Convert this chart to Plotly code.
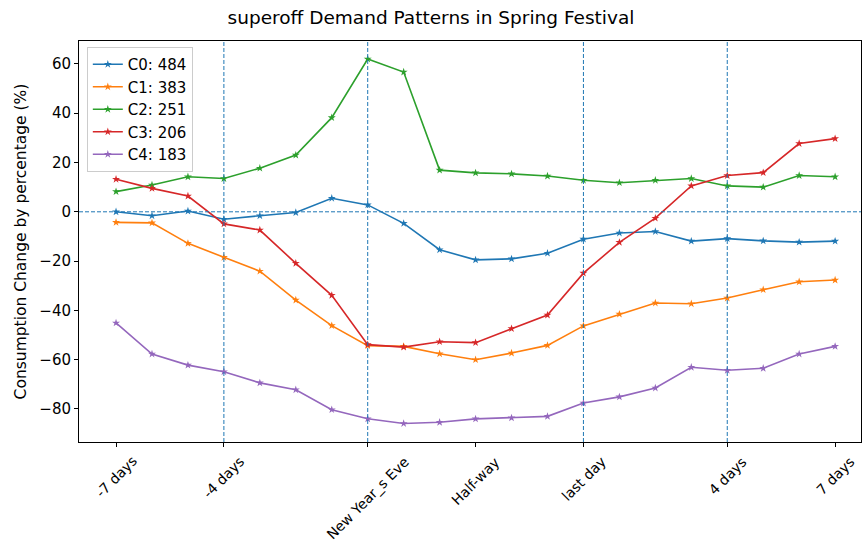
import plotly.graph_objects as go

days = list(range(21))
tick_pos = [0, 3, 7, 10, 13, 17, 20]
tick_text = ["-7 days", "-4 days", "New Year_s Eve", "Half-way", "last day", "4 days", "7 days"]
event_days = [3, 7, 13, 17]

names = ["C0: 484", "C1: 383", "C2: 251", "C3: 206", "C4: 183"]
colors = ["#1f77b4", "#ff7f0e", "#2ca02c", "#d62728", "#9467bd"]

c0 = [0.0, -1.6, 0.3, -3.0, -1.6, -0.3, 5.5, 2.8, -4.7, -15.4, -19.5,
      -19.1, -16.8, -11.1, -8.6, -8.0, -11.9, -10.9, -11.8, -12.3, -11.9]
c1 = [-4.3, -4.5, -12.8, -18.5, -24.1, -35.8, -46.2, -54.3, -54.6, -57.6, -60.0,
      -57.3, -54.2, -46.3, -41.5, -37.0, -37.3, -35.0, -31.6, -28.4, -27.7]
c2 = [8.2, 10.9, 14.2, 13.5, 17.7, 23.0, 38.2, 62.0, 56.7, 16.9, 15.8,
      15.4, 14.5, 12.8, 11.8, 12.8, 13.5, 10.5, 10.0, 14.7, 14.2]
c3 = [13.2, 9.5, 6.4, -4.9, -7.4, -20.9, -33.9, -53.9, -54.9, -52.7, -53.1,
      -47.4, -41.9, -24.9, -12.4, -2.6, 10.5, 14.7, 15.9, 27.7, 29.7]
c4 = [-45.1, -57.7, -62.2, -64.9, -69.4, -72.2, -80.3, -84.0, -85.9, -85.4, -84.0,
      -83.6, -83.0, -77.6, -75.1, -71.5, -63.1, -64.3, -63.5, -57.7, -54.6]
series = [c0, c1, c2, c3, c4]

fig = go.Figure()
for name, col, vals in zip(names, colors, series):
    fig.add_trace(go.Scatter(
        x=days, y=vals, mode="lines+markers", name=name,
        line=dict(color=col, width=1.6),
        marker=dict(symbol="star", size=6, color=col),
    ))

for d in event_days:
    fig.add_vline(x=d, line=dict(color="#1f77b4", width=1, dash="4px,2px"))
fig.add_hline(y=0, line=dict(color="#1f77b4", width=1, dash="4px,2px"))

annotations = []
for p, t in zip(tick_pos, tick_text):
    annotations.append(dict(
        x=p, y=-0.022, xref="x", yref="paper", text=t, showarrow=False,
        textangle=-45, xanchor="center", yanchor="top",
        font=dict(family="DejaVu Sans", size=14, color="#000"),
    ))

fig.update_layout(
    width=862, height=548,
    margin=dict(l=79, r=1, t=41, b=106, autoexpand=False),
    paper_bgcolor="white", plot_bgcolor="white",
    font=dict(family="DejaVu Sans", size=14, color="#000"),
    title=dict(text="superoff Demand Patterns in Spring Festival",
               x=0.5, xanchor="center", y=0.968, yanchor="middle",
               font=dict(size=18.5, color="#000")),
    showlegend=True,
    legend=dict(x=0.01, y=0.985, xanchor="left", yanchor="top",
                bordercolor="#cccccc", borderwidth=1, bgcolor="rgba(255,255,255,0.8)",
                font=dict(size=15), itemwidth=30, tracegroupgap=6),
    annotations=annotations,
)
fig.update_xaxes(range=[-1.03, 20.72], tickmode="array", tickvals=tick_pos,
                 showticklabels=False, ticks="outside", ticklen=4, tickcolor="#000",
                 showline=True, linecolor="#000", linewidth=1, mirror=True,
                 showgrid=False, zeroline=False, automargin=False)
fig.update_yaxes(range=[-93.4, 69.3], tickmode="array", tickvals=[-80, -60, -40, -20, 0, 20, 40, 60],
                 ticks="outside", ticklen=4, tickcolor="#000", tickfont=dict(size=15),
                 showline=True, linecolor="#000", linewidth=1, mirror=True,
                 showgrid=False, zeroline=False, automargin=False,
                 title=dict(text="Consumption Change by percentage (%)", standoff=8,
                            font=dict(size=15.5)))

fig.write_html("out.html", config={"displayModeBar": False},
               post_script="document.body.style.margin='0';document.body.style.padding='0';")
